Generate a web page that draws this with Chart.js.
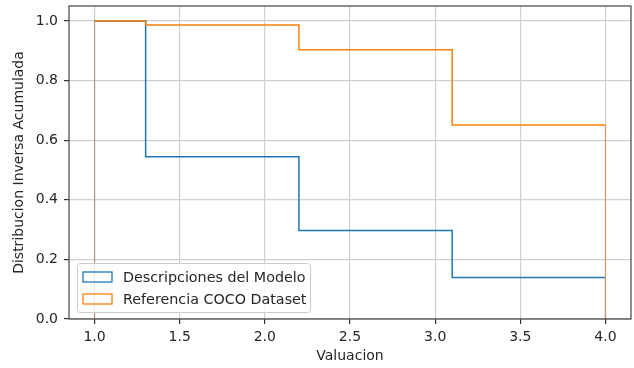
<!DOCTYPE html>
<html>
<head>
<meta charset="utf-8">
<script src="https://cdn.jsdelivr.net/npm/chart.js@4/dist/chart.umd.min.js"></script>
<style>
  html, body { margin: 0; padding: 0; background: #fff; }
</style>
</head>
<body>
<canvas id="chart" width="634" height="368"></canvas>
<script>
// step histogram data (cumulative inverse)
const binEdges = [1.0, 1.3, 2.2, 3.1, 4.0];
const modeloValues = [1.0, 0.544, 0.297, 0.139];
const cocoValues = [1.0, 0.986, 0.903, 0.651];
const seriesNames = ['Descripciones del Modelo', 'Referencia COCO Dataset'];
const xTickValues = [1.0, 1.5, 2.0, 2.5, 3.0, 3.5, 4.0];
const yTickValues = [0.0, 0.2, 0.4, 0.6, 0.8, 1.0];

const blue = '#1f77b4';
const orange = '#ff7f0e';
const textColor = '#262626';
const gridColor = '#d0d0d0';

Chart.defaults.font.family = 'DejaVu Sans';
Chart.defaults.font.size = 14;
Chart.defaults.color = textColor;

// turn bins into the outline of a step histogram
function stepPoints(edges, values) {
    const pts = [{ x: edges[0], y: 0 }];
    values.forEach(function (v, i) {
        pts.push({ x: edges[i], y: v });
        pts.push({ x: edges[i + 1], y: v });
    });
    pts.push({ x: edges[edges.length - 1], y: 0 });
    return pts;
}

// the outer verticals come out thin and faded in the original
function edgeWidth(ctx) {
    const last = ctx.chart.data.datasets[ctx.datasetIndex].data.length - 2;
    return (ctx.p0DataIndex === 0 || ctx.p0DataIndex === last) ? 1 : undefined;
}

// frame + legend like matplotlib
const framePlugin = {
    id: 'frame',
    afterDraw(chart) {
        const ctx = chart.ctx;
        const a = chart.chartArea;
        ctx.save();
        ctx.strokeStyle = '#333';
        ctx.lineWidth = 1.1;
        ctx.strokeRect(a.left, a.top, a.right - a.left, a.bottom - a.top);

        // legend box, lower left
        const bx = 77, by = 263, bw = 233, bh = 49;
        ctx.fillStyle = 'rgba(255,255,255,0.8)';
        ctx.strokeStyle = '#cccccc';
        ctx.lineWidth = 1;
        ctx.beginPath();
        ctx.roundRect(bx + 0.5, by + 0.5, bw, bh, 3);
        ctx.fill();
        ctx.stroke();

        const colors = [blue, orange];
        ctx.font = '14.3px "DejaVu Sans"';
        ctx.textBaseline = 'middle';
        ctx.textAlign = 'left';
        seriesNames.forEach(function (name, i) {
            const cy = 277 + i * 22;
            ctx.strokeStyle = colors[i];
            ctx.lineWidth = 1.3;
            ctx.strokeRect(83, cy - 5, 29, 10);
            ctx.fillStyle = textColor;
            ctx.fillText(name, 123, cy + 1);
        });
        ctx.restore();
    }
};

new Chart(document.getElementById('chart'), {
    type: 'line',
    data: {
        datasets: [{
            label: seriesNames[0],
            data: stepPoints(binEdges, modeloValues),
            borderColor: blue,
            borderWidth: 1.5,
            pointRadius: 0,
            tension: 0,
            order: 2,
            segment: { borderWidth: edgeWidth }
        }, {
            label: seriesNames[1],
            data: stepPoints(binEdges, cocoValues),
            borderColor: orange,
            borderWidth: 1.5,
            pointRadius: 0,
            tension: 0,
            order: 1,
            segment: {
                borderWidth: edgeWidth,
                borderColor: ctx => edgeWidth(ctx) ? 'rgba(214,150,100,0.8)' : undefined
            }
        }]
    },
    options: {
        responsive: false,
        animation: false,
        devicePixelRatio: 1,
        layout: { padding: { top: 6, right: 3, left: 0, bottom: 0 } },
        plugins: {
            legend: { display: false },
            tooltip: { enabled: false }
        },
        scales: {
            x: {
                type: 'linear',
                min: 0.85,
                max: 4.15,
                afterBuildTicks: axis => { axis.ticks = xTickValues.map(v => ({ value: v })); },
                afterFit: scale => {
                    scale.height = 49;
                    scale.paddingLeft = 0;
                    scale.paddingRight = 0;
                },
                ticks: {
                    padding: 5,
                    maxRotation: 0,
                    callback: v => v.toFixed(1)
                },
                grid: { color: gridColor, lineWidth: 1.2, tickLength: 5, tickColor: '#333' },
                border: { display: false },
                title: {
                    display: true,
                    text: 'Valuacion',
                    font: { size: 14 },
                    padding: { top: 0, bottom: 3 }
                }
            },
            y: {
                type: 'linear',
                min: 0,
                max: 1.05,
                afterBuildTicks: axis => { axis.ticks = yTickValues.map(v => ({ value: v })); },
                afterFit: scale => {
                    scale.width = 69;
                    scale.paddingTop = 0;
                    scale.paddingBottom = 0;
                },
                ticks: {
                    padding: 6,
                    callback: v => v.toFixed(1)
                },
                grid: { color: gridColor, lineWidth: 1.2, tickLength: 5, tickColor: '#333' },
                border: { display: false },
                title: {
                    display: true,
                    text: 'Distribucion Inversa Acumulada',
                    font: { size: 14 },
                    padding: { top: 11, bottom: 0 }
                }
            }
        }
    },
    plugins: [framePlugin]
});
</script>
</body>
</html>
